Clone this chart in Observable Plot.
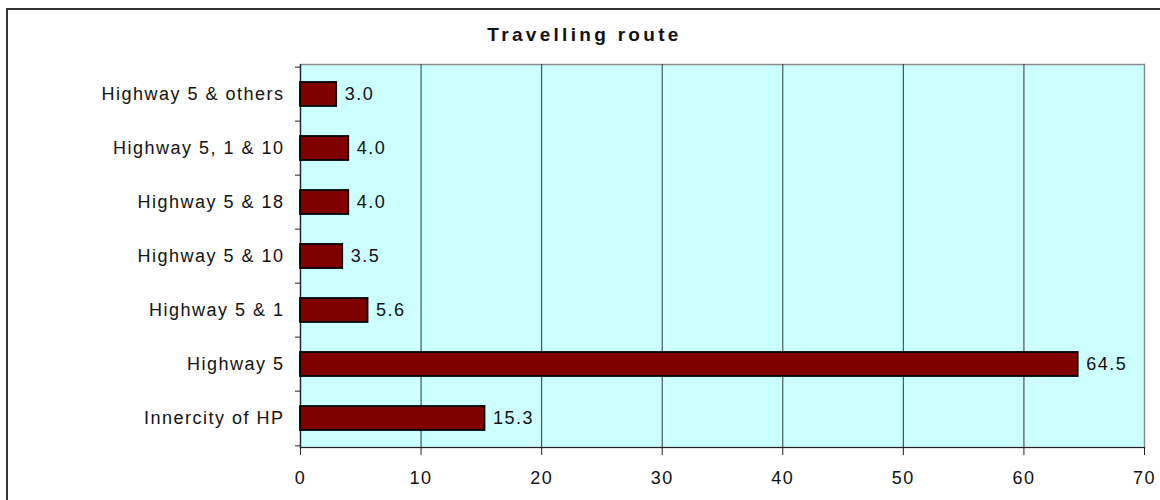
<!DOCTYPE html>
<html>
<head>
<meta charset="utf-8">
<script src="https://cdn.jsdelivr.net/npm/d3@7"></script>
<script src="https://cdn.jsdelivr.net/npm/@observablehq/plot@0.6"></script>
<style>
  html, body { margin: 0; padding: 0; overflow: hidden; background: #fff; }
  #wrap { position: relative; width: 1160px; height: 500px; }
  #border { position: absolute; left: 6px; top: 8px; width: 1200px; height: 600px;
            border: 2px solid #333; box-sizing: border-box; }
  #chart { position: absolute; left: 0; top: 0; }
  #chart svg g.chart-title text { letter-spacing: 3.3px; }
</style>
</head>
<body>
<div id="wrap">
  <div id="border"></div>
  <div id="chart"></div>
</div>
<script>
// Travelling route shares (percent), listed top to bottom
const title = "Travelling route";
const routes = [
  "Highway 5 & others",
  "Highway 5, 1 & 10",
  "Highway 5 & 18",
  "Highway 5 & 10",
  "Highway 5 & 1",
  "Highway 5",
  "Innercity of HP"
];
const shares = [3.0, 4.0, 4.0, 3.5, 5.6, 64.5, 15.3];
const xTicks = [0, 10, 20, 30, 40, 50, 60, 70];

const rows = routes.map((name, i) => ({name, value: shares[i]}));

const W = 1160, H = 500;
const margin = {left: 300, right: 16, top: 64, bottom: 53};
const step = (H - margin.top - margin.bottom) / routes.length;

const plot = Plot.plot({
  width: W,
  height: H,
  marginLeft: margin.left,
  marginRight: margin.right,
  marginTop: margin.top,
  marginBottom: margin.bottom,
  style: {
    fontFamily: "'Liberation Sans', Arial, sans-serif",
    fontSize: "18px",
    letterSpacing: "1.5px",
    color: "#111",
    background: "transparent"
  },
  x: {domain: [0, 70]},
  y: {domain: routes, paddingInner: 0.56, paddingOuter: 0.28},
  marks: [
    // plot background and border
    Plot.frame({fill: "#ccffff", stroke: "#8c8c8c", strokeWidth: 1.5}),
    // vertical gridlines
    Plot.gridX({ticks: xTicks.slice(1, -1), stroke: "#333", strokeOpacity: 1}),
    // left and bottom axis lines
    Plot.ruleX([0], {stroke: "#222", strokeWidth: 1.2}),
    Plot.frame({anchor: "bottom", stroke: "#222", strokeWidth: 1.2}),
    // bars
    Plot.barX(rows, {x: "value", y: "name", fill: "#800000", stroke: "#000", strokeWidth: 1.8}),
    // value labels
    Plot.text(rows, {x: "value", y: "name", text: d => d.value.toFixed(1), textAnchor: "start", dx: 8, fill: "#111"}),
    // x axis
    Plot.axisX({ticks: xTicks, tickSize: 8, tickPadding: 16, label: null, stroke: "#222"}),
    // category labels
    Plot.axisY({tickSize: 0, tickPadding: 16, label: null}),
    // tick marks at category boundaries
    Plot.axisY({ticks: routes, tickSize: 5, tickFormat: () => "", label: null, dy: -step / 2, stroke: "#222"}),
    Plot.axisY({ticks: routes.slice(-1), tickSize: 5, tickFormat: () => "", label: null, dy: step / 2, stroke: "#222"}),
    // chart title
    Plot.text([title], {frameAnchor: "top", dx: -138, dy: -24, lineAnchor: "bottom",
      fontWeight: "bold", fontSize: 19, fill: "#111", className: "chart-title"})
  ]
});

// title is letter-spaced more widely than the rest of the text
d3.select(plot).selectAll("text")
  .filter(function () { return this.textContent === title; })
  .attr("letter-spacing", "3.3px");

document.getElementById("chart").appendChild(plot);
</script>
</body>
</html>
